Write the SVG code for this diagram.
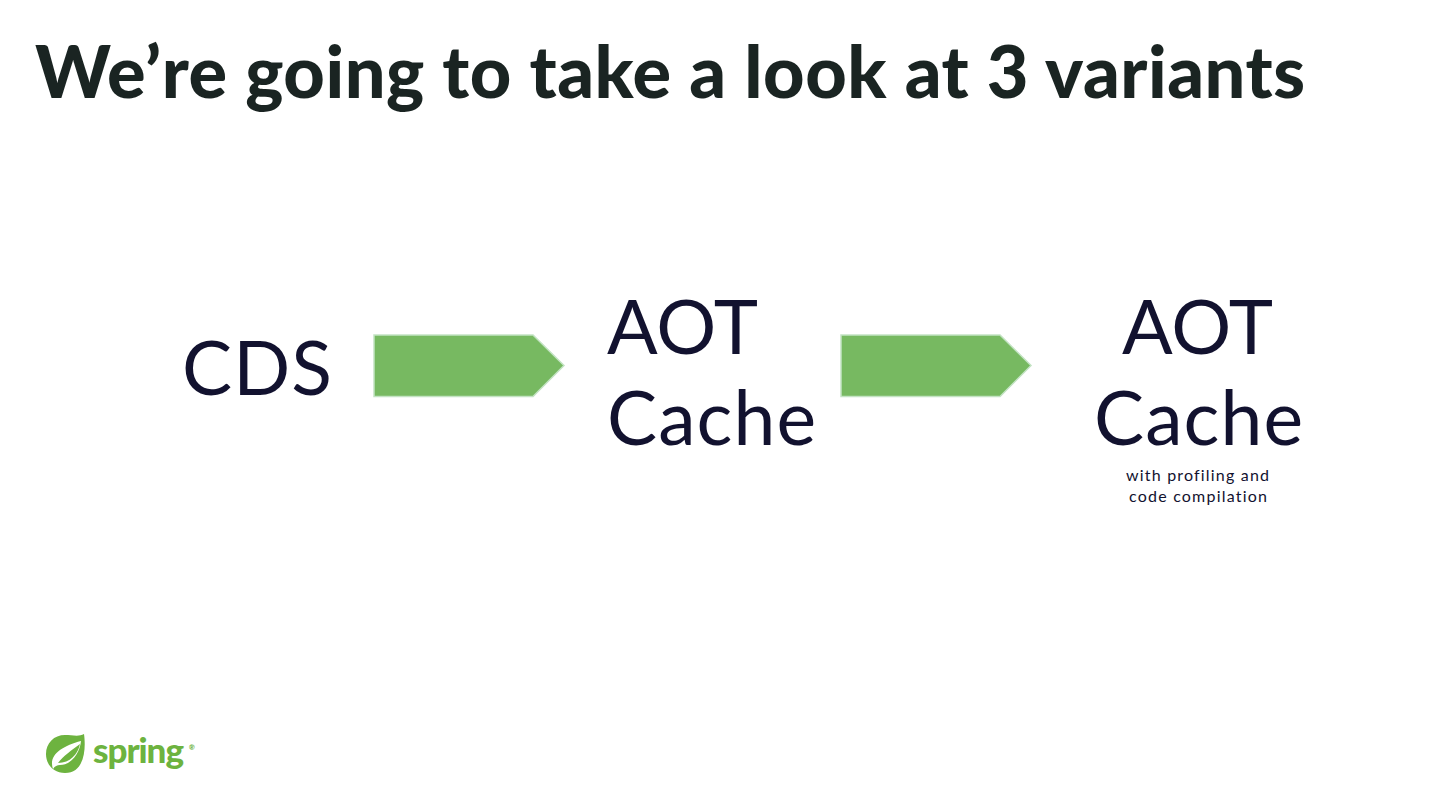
<svg xmlns="http://www.w3.org/2000/svg" width="1440" height="810" viewBox="0 0 1440 810">
<style>
.title{font-family:"Lato","Liberation Sans",sans-serif;font-weight:900;font-size:72px;fill:#1a2422}
.big{font-family:"Lato","Noto Sans",sans-serif;font-size:75px;fill:#12122f;font-variant-ligatures:none}
.small{font-family:"Lato","Noto Sans",sans-serif;font-size:16px;fill:#12122f;font-variant-ligatures:none}
.arrow{fill:#77b961;stroke:#c3e3c3;stroke-width:1.5}
.logo{font-family:"Lato","Noto Sans",sans-serif;font-weight:900;fill:#6db33f}
</style>
<rect width="1440" height="810" fill="#ffffff"/>
<g id="title"><text class="title" x="35" y="98" textLength="1270" lengthAdjust="spacing">We’re going to take a look at 3 variants</text></g>
<g id="connectors">
<polygon class="arrow" points="374,335 533,335 564,365.500 533,396.500 374,396.500"/>
<polygon class="arrow" points="841,335 1000,335 1031,365.500 1000,396.500 841,396.500"/>
</g>
<g id="node-cds"><text class="big" x="182" y="395" textLength="150" lengthAdjust="spacing">CDS</text></g>
<g id="node-aot-cache">
<text class="big" x="607" y="354" textLength="151" lengthAdjust="spacing">AOT</text>
<text class="big" x="607" y="445" textLength="209" lengthAdjust="spacing">Cache</text>
</g>
<g id="node-aot-cache-profiling">
<text class="big" x="1122" y="354" textLength="151" lengthAdjust="spacing">AOT</text>
<text class="big" x="1094" y="445" textLength="209" lengthAdjust="spacing">Cache</text>
<text class="small" x="1126" y="481" textLength="143" lengthAdjust="spacing">with profiling and</text>
<text class="small" x="1129" y="502" textLength="138" lengthAdjust="spacing">code compilation</text>
</g>
<g id="logo">
<path d="M65 735 C72 735 79 737 84 734 C86 748 85 773 65 773 C54 773 46 765 46 754 C46 743 54 735 65 735 Z" fill="#6db33f"/>
<path d="M53 769 C48 755 62 746 81 741 C80 752 72 765 60 765 C57 765 55 766 53 769 Z" fill="#ffffff"/>
<path d="M58 763 C63 756 72 750 80 744 C78 754 70 763 58 763 Z" fill="#6db33f"/>
<text class="logo" x="93" y="763" font-size="35" textLength="91" lengthAdjust="spacing">spring</text>
<text class="logo" x="189" y="750" font-size="7">®</text>
</g>
</svg>
